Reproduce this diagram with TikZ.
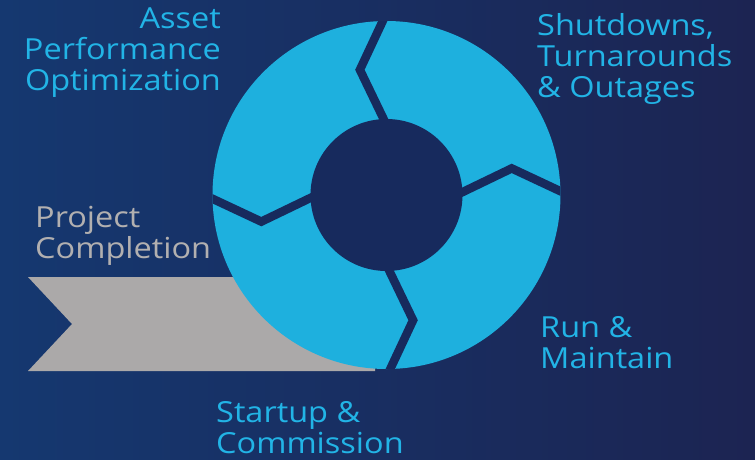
\documentclass[tikz,border=0pt]{standalone}
\usepackage{fontspec}
\setmainfont[FakeStretch=1.12]{Open Sans}
\usepackage{tikz}
\usetikzlibrary{positioning}
\usetikzlibrary{calc}
\definecolor{bgleft}{RGB}{21,56,112}
\definecolor{bgright}{RGB}{28,36,82}
\definecolor{ringblue}{RGB}{30,176,222}
\definecolor{labelblue}{RGB}{34,180,230}
\definecolor{gapdark}{RGB}{23,42,93}
\definecolor{bannergrey}{RGB}{171,169,169}
\definecolor{textgrey}{RGB}{178,176,176}
\tikzstyle{stage} = [inner sep=0pt, align=left, anchor=north west, text=labelblue, font=\fontsize{29}{31}\selectfont]
\tikzstyle{phase} = [stage, text=textgrey]
\tikzstyle{gap} = [gapdark, line width=8.5pt]

\begin{document}
\begin{tikzpicture}[x=1pt, y=-1pt]
			%背景
			\useasboundingbox (0,0) rectangle (755,459);
			\shade[left color=bgleft, right color=bgright] (0,0) rectangle (755,459);
			\coordinate (c) at (386.5,195);
			
			%灰色箭头
			\fill[bannergrey] (28,277) -- (375,277) -- (375,371) -- (28,371) -- (72,324) -- cycle;
			
			%圆环
			\fill[ringblue] (c) circle (174);
			\fill[gapdark] (c) circle (76);
			\begin{scope}
				\clip (c) circle (174);
				\foreach \a in {0,90,180,270}
					\draw[gap] ($(c)+(-\a:182)$) -- ($(c)+(-\a-12:128)$) -- ($(c)+(-\a:70)$);
			\end{scope}
			
			%文字
			\node (apo) [stage, align=right, anchor=north east] at (221,8) {Asset\\Performance\\Optimization};
			\node (sto) [stage] at (537,13) {Shutdowns,\\Turnarounds\\\& Outages};
			\node (rm) [stage] at (540,316) {Run \&\\Maintain};
			\node (sc) [stage] at (216,401) {Startup \&\\Commission};
			\node (pc) [phase] at (35,206) {Project\\Completion};
		\end{tikzpicture}
\end{document}
